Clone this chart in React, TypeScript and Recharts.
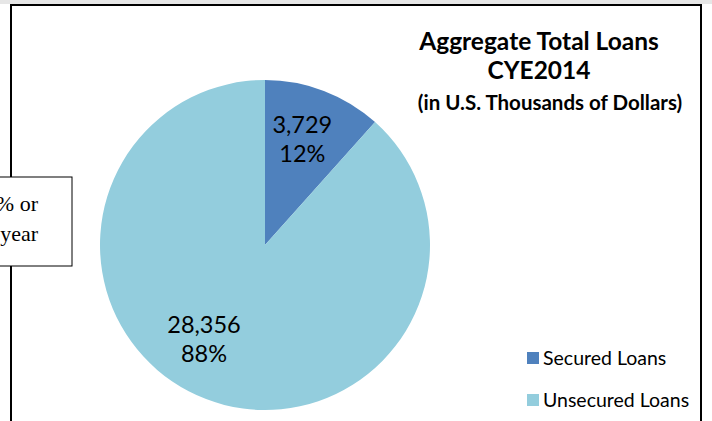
import React from 'react';
import { PieChart, Pie, Cell, Customized } from 'recharts';

const categories = ['Secured Loans', 'Unsecured Loans'];
const loanValues = [3729, 28356];
const sliceColors = ['#4F81BD', '#93CDDD'];
const titleLines = ['Aggregate Total Loans', 'CYE2014', '(in U.S. Thousands of Dollars)'];
const sideNoteLines = ['% or', 'year'];

const data = categories.map((name, i) => ({ name, value: loanValues[i] }));

const FONT = 'Lato, "Open Sans", sans-serif';
const RAD = Math.PI / 180;
const labelAngleShift = [1.5, -12];

const renderLabel = (props: any) => {
  const { cx, cy, midAngle, outerRadius, percent, value, index } = props;
  const r = outerRadius * 0.68;
  const a = (midAngle + labelAngleShift[index]) * RAD;
  const x = cx + r * Math.cos(-a);
  const y = cy + r * Math.sin(-a);
  return (
    <text x={x} y={y} textAnchor="middle" fill="#000" fontFamily={FONT} fontSize={23.5}>
      <tspan x={x} dy={-6}>{Number(value).toLocaleString('en-US')}</tspan>
      <tspan x={x} dy={29}>{Math.round(percent * 100)}%</tspan>
    </text>
  );
};

export default function App() {
  return (
    <div style={{ position: 'absolute', left: 0, top: 0, width: 712, height: 421, background: '#fff' }}>
      <PieChart width={712} height={421} margin={{ top: 0, right: 0, bottom: 0, left: 0 }}>
        <Customized
          component={
            <g>
              <rect x={0} y={0} width={712} height={4} fill="#e6e6e6" />
              <rect x={11} y={5} width={690} height={430} fill="none" stroke="#000" strokeWidth={2} />
            </g>
          }
        />
        <Pie
          data={data}
          dataKey="value"
          nameKey="name"
          cx={265}
          cy={245}
          outerRadius={165}
          startAngle={90}
          endAngle={-270}
          stroke="none"
          label={renderLabel}
          labelLine={false}
          isAnimationActive={false}
        >
          {data.map((d, i) => (
            <Cell key={d.name} fill={sliceColors[i]} />
          ))}
        </Pie>
        <Customized
          component={
            <g>
              <text x={539} y={50} textAnchor="middle" fontFamily={FONT} fontWeight={700} fontSize={24.5} fill="#000">
                {titleLines[0]}
              </text>
              <text x={539} y={79} textAnchor="middle" fontFamily={FONT} fontWeight={700} fontSize={24.5} fill="#000">
                {titleLines[1]}
              </text>
              <text x={550} y={110} textAnchor="middle" fontFamily={FONT} fontWeight={700} fontSize={20.5} fill="#000">
                {titleLines[2]}
              </text>
              {categories.map((c, i) => (
                <g key={c}>
                  <rect x={527} y={352 + i * 42} width={12} height={12} fill={sliceColors[i]} />
                  <text x={543} y={365 + i * 42} fontFamily={FONT} fontSize={19.5} fill="#000">
                    {c}
                  </text>
                </g>
              ))}
              <rect x={-1} y={177} width={73} height={89} fill="#fff" stroke="#000" strokeWidth={1} />
              {sideNoteLines.map((t, i) => (
                <text key={t} x={38} y={211 + i * 30} textAnchor="end" fontFamily='"Liberation Serif", serif' fontSize={22} fill="#000">
                  {t}
                </text>
              ))}
            </g>
          }
        />
      </PieChart>
    </div>
  );
}
